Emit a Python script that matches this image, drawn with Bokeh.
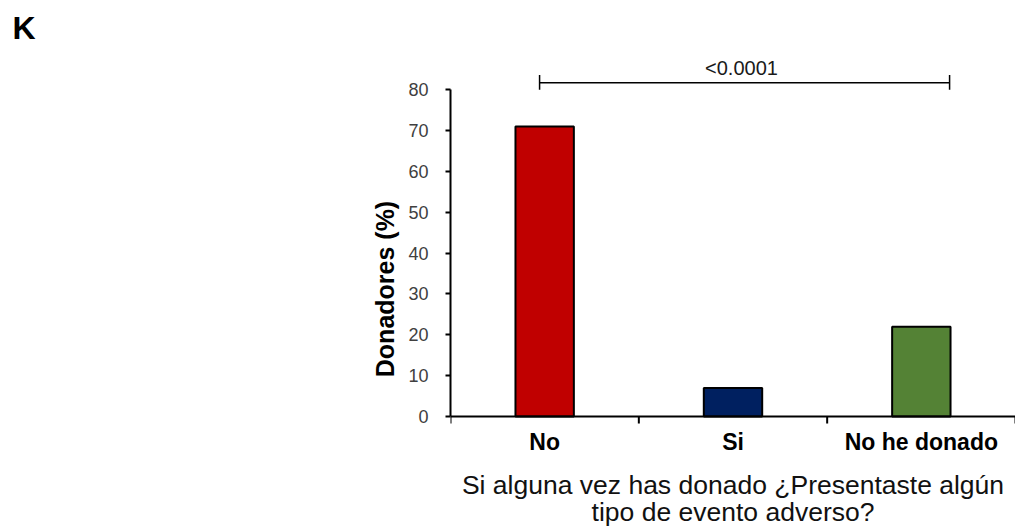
from bokeh.plotting import figure
from bokeh.models import (FixedTicker, LinearAxis, Range1d, Title)
from bokeh.core.properties import value
from bokeh.embed import file_html
from bokeh.resources import INLINE

# ---- data ----
categories = ["No", "Si", "No he donado"]
donadores_pct = [71, 7, 22]
bar_colors = ["#c00000", "#002060", "#548235"]
y_ticks = [0, 10, 20, 30, 40, 50, 60, 70, 80]
p_value_text = "<0.0001"
panel_letter = "K"
y_title = "Donadores (%)"
x_title = "Si alguna vez has donado ¿Presentaste algún\ntipo de evento adverso?"

FONT = "Liberation Sans"

x_centers = [i + 0.5 for i in range(len(categories))]
boundaries = list(range(len(categories) + 1))

p = figure(width=1015, height=527, output_backend="svg", toolbar_location=None,
           x_range=Range1d(0, 3.0), y_range=Range1d(-27.17, 89.6),
           min_border_left=450, min_border_right=0, min_border_top=50,
           min_border_bottom=0, x_axis_type=None, y_axis_type=None)
p.outline_line_color = None
p.background_fill_color = "white"
p.border_fill_color = "white"

# y axis
yax = LinearAxis(ticker=FixedTicker(ticks=y_ticks), bounds=(0, 80))
yax.axis_line_width = 2
yax.axis_line_color = "black"
yax.major_tick_out = 5
yax.major_tick_in = 0
yax.major_tick_line_width = 2
yax.minor_tick_line_color = None
yax.major_label_text_font = FONT
yax.major_label_text_font_size = "18px"
yax.major_label_text_color = "#404040"
yax.major_label_standoff = 17
yax.axis_label = y_title
yax.axis_label_text_font = FONT
yax.axis_label_text_font_style = "bold"
yax.axis_label_text_font_size = "25px"
yax.axis_label_text_color = "black"
yax.axis_label_standoff = 6
p.add_layout(yax, "left")

# x axis, drawn at y = 0 inside the frame
xax = LinearAxis(ticker=FixedTicker(ticks=x_centers), fixed_location=0)
xax.major_label_overrides = {c: lab for c, lab in zip(x_centers, categories)}
xax.axis_line_width = 2
xax.axis_line_color = "black"
xax.major_tick_line_color = None
xax.major_tick_out = 0
xax.major_tick_in = 0
xax.minor_tick_line_color = None
xax.minor_tick_out = 0
xax.minor_tick_in = 0
xax.major_label_text_font = FONT
xax.major_label_text_font_style = "bold"
xax.major_label_text_font_size = "23px"
xax.major_label_text_color = "black"
xax.major_label_standoff = 12
xax.axis_label = x_title
xax.axis_label_text_font = FONT
xax.axis_label_text_font_style = "normal"
xax.axis_label_text_font_size = "26.5px"
xax.axis_label_text_color = "#111111"
xax.axis_label_text_line_height = 0.92
xax.axis_label_standoff = 12
p.add_layout(xax, "below")

# category boundary tick marks below the x axis (7 px long)
tick_len = 7 / 4.085
p.segment(x0=boundaries, y0=[0] * len(boundaries), x1=boundaries,
          y1=[-tick_len] * len(boundaries), line_color="black", line_width=2)

# grid
p.ygrid.ticker = FixedTicker(ticks=y_ticks)
p.ygrid.grid_line_color = "#b3b3b3"
p.ygrid.grid_line_width = 1.5
p.xgrid.grid_line_color = None

# bars
p.vbar(x=x_centers, top=donadores_pct, width=0.31, bottom=0,
       fill_color=bar_colors, line_color="black", line_width=2)

# significance bracket
br_x0, br_x1, br_y, br_tick_top = 0.473, 2.65, 81.7, 83.6
p.segment(x0=[br_x0, br_x0, br_x1], y0=[br_y, 80, 80],
          x1=[br_x1, br_x0, br_x1], y1=[br_y, br_tick_top, br_tick_top],
          line_color="black", line_width=1.5)
p.text(x=[1.545], y=[85.25], text=[p_value_text], text_align="center",
       text_baseline="alphabetic", text_font=value(FONT),
       text_font_size="20px", text_color="#1a1a1a")

# panel letter
p.add_layout(Title(text=panel_letter, align="left", offset=-438,
                   text_font=FONT, text_font_style="bold",
                   text_font_size="32px", text_color="black"), "above")

open("out.html", "w").write(file_html(p, INLINE))
